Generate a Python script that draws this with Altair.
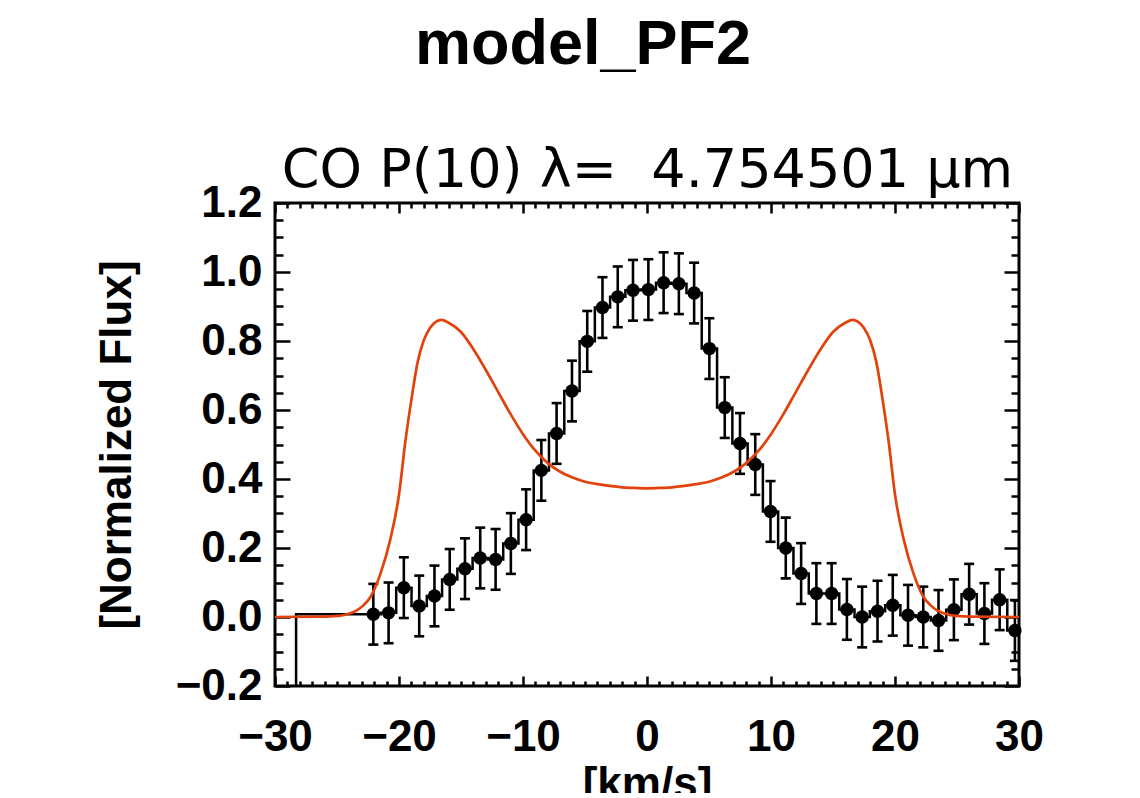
import altair as alt
import pandas as pd

# ---- data ----
VEL = [-22.07, -20.84, -19.61, -18.37, -17.14, -15.91, -14.68, -13.45, -12.21, -10.98,
       -9.75, -8.52, -7.29, -6.05, -4.82, -3.59, -2.36, -1.13, 0.11, 1.34,
       2.57, 3.80, 5.03, 6.27, 7.50, 8.73, 9.96, 11.19, 12.43, 13.66,
       14.89, 16.12, 17.35, 18.59, 19.82, 21.05, 22.28, 23.51, 24.75, 25.98,
       27.21, 28.44, 29.67]
FLUX = [0.008, 0.012, 0.085, 0.032, 0.061, 0.109, 0.140, 0.171, 0.167, 0.213,
        0.282, 0.425, 0.532, 0.655, 0.799, 0.897, 0.928, 0.947, 0.949, 0.969,
        0.966, 0.939, 0.778, 0.607, 0.503, 0.442, 0.306, 0.200, 0.126, 0.068,
        0.068, 0.022, 0.000, 0.017, 0.034, 0.005, 0.000, -0.010, 0.021, 0.066,
        0.010, 0.050, -0.039]
ERR = [0.088, 0.088, 0.088, 0.088, 0.088, 0.088, 0.088, 0.088, 0.088, 0.088,
       0.088, 0.088, 0.088, 0.088, 0.088, 0.088, 0.088, 0.088, 0.088, 0.088,
       0.088, 0.088, 0.088, 0.088, 0.088, 0.088, 0.088, 0.088, 0.088, 0.088,
       0.088, 0.088, 0.088, 0.088, 0.088, 0.088, 0.088, 0.088, 0.088, 0.088,
       0.088, 0.088, 0.088]

# histogram-style line: extra bins outside the measured range
STEP_PRE_V = [-29.5, -27.1]
STEP_PRE_F = [-0.6, 0.008]
STEP_POST_V = [31.0]
STEP_POST_F = [-0.039]

# model profile
MODEL_V = [-30.0, -26.0, -25.0, -24.5, -24.0, -23.4, -22.9, -22.3, -21.5, -20.7,
           -20.0, -19.5, -19.0, -18.5, -18.0, -17.5, -17.0, -16.6, -16.0, -15.0,
           -14.0, -13.0, -12.0, -11.0, -10.0, -9.0, -8.0, -7.0, -6.0, -5.0,
           -4.0, -3.0, -2.0, -1.0, 0.0,
           1.0, 2.0, 3.0, 4.0, 5.0, 6.0, 7.0, 8.0, 9.0, 10.0,
           11.0, 12.0, 13.0, 14.0, 15.0, 16.0, 16.6, 17.0, 17.5, 18.0,
           18.5, 19.0, 19.5, 20.0, 20.7, 21.5, 22.3, 22.9, 23.4, 24.0,
           24.5, 25.0, 26.0, 30.0]
MODEL_F = [0.000, 0.001, 0.003, 0.005, 0.010, 0.019, 0.033, 0.058, 0.125, 0.225,
           0.355, 0.505, 0.630, 0.738, 0.802, 0.838, 0.856, 0.861, 0.853, 0.826,
           0.776, 0.716, 0.652, 0.588, 0.530, 0.482, 0.446, 0.421, 0.404, 0.392,
           0.385, 0.380, 0.376, 0.374, 0.373,
           0.374, 0.376, 0.380, 0.385, 0.392, 0.404, 0.421, 0.446, 0.482, 0.530,
           0.588, 0.652, 0.716, 0.776, 0.826, 0.853, 0.861, 0.856, 0.838, 0.802,
           0.738, 0.630, 0.505, 0.355, 0.225, 0.125, 0.058, 0.033, 0.019, 0.010,
           0.005, 0.003, 0.001, 0.000]

X_MAJOR = [-30, -20, -10, 0, 10, 20, 30]
X_MINOR = [v for v in range(-29, 30) if v % 10 != 0]
Y_MAJOR = [-0.2, 0.0, 0.2, 0.4, 0.6, 0.8, 1.0, 1.2]
Y_MINOR = [-0.15, -0.10, -0.05, 0.05, 0.10, 0.15, 0.25, 0.30, 0.35, 0.45, 0.50, 0.55,
           0.65, 0.70, 0.75, 0.85, 0.90, 0.95, 1.05, 1.10, 1.15]

TITLE = "model_PF2"
SUBTITLE = "CO P(10) \u03bb=\u00a0 4.754501 \u03bcm"
XTITLE = "[km/s]"
YTITLE = "[Normalized Flux]"
ORANGE = "#e2420c"

W, H = 744, 483

data = pd.DataFrame({
    "v": VEL, "f": FLUX,
    "lo": [f - e for f, e in zip(FLUX, ERR)],
    "hi": [f + e for f, e in zip(FLUX, ERR)],
})
step_df = pd.DataFrame({"v": STEP_PRE_V + VEL + STEP_POST_V,
                        "f": STEP_PRE_F + FLUX + STEP_POST_F})
model_df = pd.DataFrame({"v": MODEL_V, "f": MODEL_F})

xs = alt.Scale(domain=[-30, 30], nice=False, zero=False)
ys = alt.Scale(domain=[-0.2, 1.2], nice=False, zero=False)


def tick_axis(orient, values, size, offset):
    return alt.Axis(orient=orient, values=values, tickSize=size, tickWidth=2.5,
                    tickColor="black", ticks=True, labels=False, domain=False,
                    grid=False, title="", offset=offset)


ax_x_labels = alt.Axis(orient="bottom", values=X_MAJOR, format="d", ticks=False,
                       tickSize=0, domain=False, grid=False, labelPadding=29,
                       labelFlush=False, labelOverlap=False,
                       title=XTITLE, titleY=111, titleBaseline="alphabetic")
ax_y_labels = alt.Axis(orient="left", values=Y_MAJOR, format=".1f", ticks=False,
                       tickSize=0, domain=False, grid=False, labelPadding=13,
                       labelFlush=False, labelOverlap=False,
                       title=YTITLE, titleAngle=270, titleX=-158, titleY=H / 2,
                       titleAlign="center", titleBaseline="middle")
ax_subtitle = alt.Axis(orient="top", ticks=False, labels=False, domain=False,
                       grid=False, title=SUBTITLE, titleFont="DejaVu Sans",
                       titleFontSize=54, titleFontWeight="normal", titleY=-17,
                       titleX=W / 2, titleAlign="center", titleBaseline="alphabetic")

step = alt.Chart(step_df).mark_line(
    interpolate="step", color="black", strokeWidth=2.5, clip=True
).encode(
    x=alt.X("v:Q", scale=xs, axis=ax_x_labels),
    y=alt.Y("f:Q", scale=ys, axis=ax_y_labels),
)

rules = alt.Chart(data).mark_rule(color="black", strokeWidth=2.6).encode(
    x=alt.X("v:Q", scale=xs, axis=tick_axis("top", X_MAJOR, 10, -H)),
    y=alt.Y("lo:Q", scale=ys, axis=tick_axis("right", Y_MAJOR, 15, -W)),
    y2="hi:Q",
)

caps_lo = alt.Chart(data).mark_tick(
    orient="horizontal", size=10, thickness=2.6, color="black", opacity=1
).encode(
    x=alt.X("v:Q", scale=xs, axis=tick_axis("top", X_MINOR, 5, -H)),
    y=alt.Y("lo:Q", scale=ys, axis=tick_axis("right", Y_MINOR, 8, -W)),
)

caps_hi = alt.Chart(data).mark_tick(
    orient="horizontal", size=10, thickness=2.6, color="black", opacity=1
).encode(
    x=alt.X("v:Q", scale=xs, axis=ax_subtitle),
    y=alt.Y("hi:Q", scale=ys, axis=None),
)

points = alt.Chart(data).mark_circle(size=180, color="black", opacity=1).encode(
    x=alt.X("v:Q", scale=xs, axis=tick_axis("bottom", X_MAJOR, 10, -H)),
    y=alt.Y("f:Q", scale=ys, axis=tick_axis("left", Y_MAJOR, 15, -W)),
)

model = alt.Chart(model_df).mark_line(
    color=ORANGE, strokeWidth=2.7, interpolate="monotone", clip=True
).encode(
    x=alt.X("v:Q", scale=xs, axis=tick_axis("bottom", X_MINOR, 5, -H)),
    y=alt.Y("f:Q", scale=ys, axis=tick_axis("left", Y_MINOR, 8, -W)),
)

chart = alt.layer(step, rules, caps_lo, caps_hi, points, model).resolve_axis(
    x="independent", y="independent"
).properties(
    width=W, height=H,
    padding={"left": 267, "top": 195, "right": 110, "bottom": 107},
    autosize=alt.AutoSizeParams(type="none"),
    background="white",
    title=alt.TitleParams(text=TITLE, font="Liberation Sans", fontSize=63,
                          fontWeight="bold", color="black", anchor="middle",
                          frame="group", dx=-64, offset=16, baseline="alphabetic"),
).configure_view(
    stroke="black", strokeWidth=3
).configure_axis(
    labelFont="Liberation Sans", labelFontSize=44, labelFontWeight="bold",
    labelColor="black", titleFont="Liberation Sans", titleFontSize=44,
    titleFontWeight="bold", titleColor="black"
)

chart.save("out.html", embed_options={"renderer": "svg", "actions": False})
